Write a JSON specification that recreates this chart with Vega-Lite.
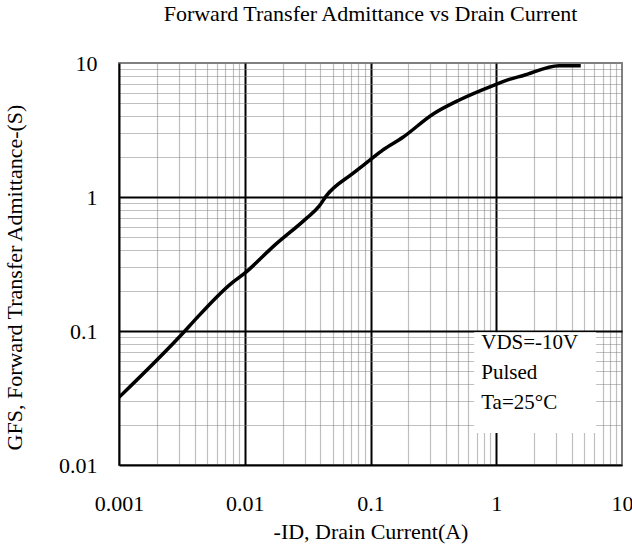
{
  "$schema": "https://vega.github.io/schema/vega-lite/v6.json",
  "width": 503,
  "height": 402,
  "autosize": {"type": "none"},
  "padding": {"left": 119, "top": 63, "right": 10, "bottom": 81},
  "background": "white",
  "config": {
    "font": "Liberation Serif",
    "view": {"stroke": "#808080", "strokeWidth": 2}
  },
  "title": {
    "text": "Forward Transfer Admittance vs Drain Current",
    "fontSize": 22,
    "fontWeight": "normal",
    "font": "Liberation Serif",
    "color": "black",
    "anchor": "middle",
    "frame": "group",
    "baseline": "alphabetic",
    "offset": 0,
    "dy": -9
  },
  "datasets": {
    "curve": [
      {"x": 0.001, "y": 0.032},
      {"x": 0.00334, "y": 0.1},
      {"x": 0.00389, "y": 0.117},
      {"x": 0.00783, "y": 0.227},
      {"x": 0.01, "y": 0.27},
      {"x": 0.0168, "y": 0.426},
      {"x": 0.0309, "y": 0.693},
      {"x": 0.0389, "y": 0.85},
      {"x": 0.0445, "y": 1.02},
      {"x": 0.0724, "y": 1.5},
      {"x": 0.0993, "y": 1.89},
      {"x": 0.125, "y": 2.24},
      {"x": 0.18, "y": 2.78},
      {"x": 0.313, "y": 4.15},
      {"x": 0.508, "y": 5.3},
      {"x": 0.964, "y": 6.85},
      {"x": 1.27, "y": 7.55},
      {"x": 1.62, "y": 8.04},
      {"x": 3.16, "y": 9.55},
      {"x": 4.7, "y": 9.55}
    ],
    "box": [{"x": 0.668, "x2": 6.22, "y": 0.0173, "y2": 0.098}],
    "note": [{"x": 0.76, "y": 0.0734, "text": ["VDS=-10V", "Pulsed", "Ta=25°C"]}]
  },
  "encoding": {
    "x": {
      "field": "x",
      "type": "quantitative",
      "scale": {"type": "log", "domain": [0.001, 10]},
      "axis": {
        "title": "-ID, Drain Current(A)",
        "titleFontSize": 22,
        "titleFontWeight": "normal",
        "titleColor": "black",
        "titleBaseline": "alphabetic",
        "titleY": 73,
        "values": [0.001, 0.002, 0.003, 0.004, 0.005, 0.006, 0.007, 0.008, 0.009,
                   0.01, 0.02, 0.03, 0.04, 0.05, 0.06, 0.07, 0.08, 0.09,
                   0.1, 0.2, 0.3, 0.4, 0.5, 0.6, 0.7, 0.8, 0.9,
                   1, 2, 3, 4, 5, 6, 7, 8, 9, 10],
        "format": "~g",
        "labelExpr": "indexof([0.001, 0.01, 0.1, 1, 10], datum.value) >= 0 ? datum.label : ''",
        "labelFontSize": 22,
        "labelColor": "black",
        "labelBaseline": "alphabetic",
        "labelPadding": 45,
        "labelFlush": false,
        "labelOverlap": false,
        "labelBound": false,
        "ticks": false,
        "tickSize": 0,
        "domainColor": "black",
        "domainWidth": 2,
        "grid": true,
        "gridColor": {"condition": {"test": "indexof([0.01, 0.1, 1], datum.value) >= 0", "value": "black"}, "value": "#808080"},
        "gridWidth": {"condition": {"test": "indexof([0.01, 0.1, 1], datum.value) >= 0", "value": 2}, "value": 1.2},
        "gridDash": {"condition": {"test": "indexof([0.01, 0.1, 1], datum.value) >= 0", "value": []}, "value": [1, 1]},
        "gridOpacity": {"condition": {"test": "datum.value == 0.001 || datum.value == 10", "value": 0}, "value": 1}
      }
    },
    "y": {
      "field": "y",
      "type": "quantitative",
      "scale": {"type": "log", "domain": [0.01, 10]},
      "axis": {
        "title": "GFS, Forward Transfer Admittance-(S)",
        "titleFontSize": 22,
        "titleFontWeight": "normal",
        "titleColor": "black",
        "titleBaseline": "alphabetic",
        "titleX": -98,
        "titleY": 214,
        "values": [0.01, 0.02, 0.03, 0.04, 0.05, 0.06, 0.07, 0.08, 0.09,
                   0.1, 0.2, 0.3, 0.4, 0.5, 0.6, 0.7, 0.8, 0.9,
                   1, 2, 3, 4, 5, 6, 7, 8, 9, 10],
        "format": "~g",
        "labelExpr": "indexof([0.01, 0.1, 1, 10], datum.value) >= 0 ? datum.label : ''",
        "labelFontSize": 22,
        "labelColor": "black",
        "labelPadding": 22,
        "labelFlush": false,
        "labelOverlap": false,
        "labelBound": false,
        "ticks": false,
        "tickSize": 0,
        "domainColor": "black",
        "domainWidth": 2,
        "grid": true,
        "gridColor": {"condition": {"test": "indexof([0.1, 1], datum.value) >= 0", "value": "black"}, "value": "#808080"},
        "gridWidth": {"condition": {"test": "indexof([0.1, 1], datum.value) >= 0", "value": 2}, "value": 1.2},
        "gridDash": {"condition": {"test": "indexof([0.1, 1], datum.value) >= 0", "value": []}, "value": [1, 1]},
        "gridOpacity": {"condition": {"test": "datum.value == 0.01 || datum.value == 10", "value": 0}, "value": 1}
      }
    }
  },
  "layer": [
    {
      "data": {"name": "curve"},
      "mark": {"type": "line", "color": "black", "strokeWidth": 3.5, "interpolate": "monotone", "clip": true}
    },
    {
      "data": {"name": "box"},
      "mark": {"type": "rect", "fill": "white"},
      "encoding": {"x2": {"field": "x2"}, "y2": {"field": "y2"}}
    },
    {
      "data": {"name": "note"},
      "mark": {"type": "text", "align": "left", "baseline": "alphabetic", "fontSize": 21, "lineHeight": 30, "color": "black", "font": "Liberation Serif"},
      "encoding": {"text": {"field": "text"}}
    }
  ]
}
